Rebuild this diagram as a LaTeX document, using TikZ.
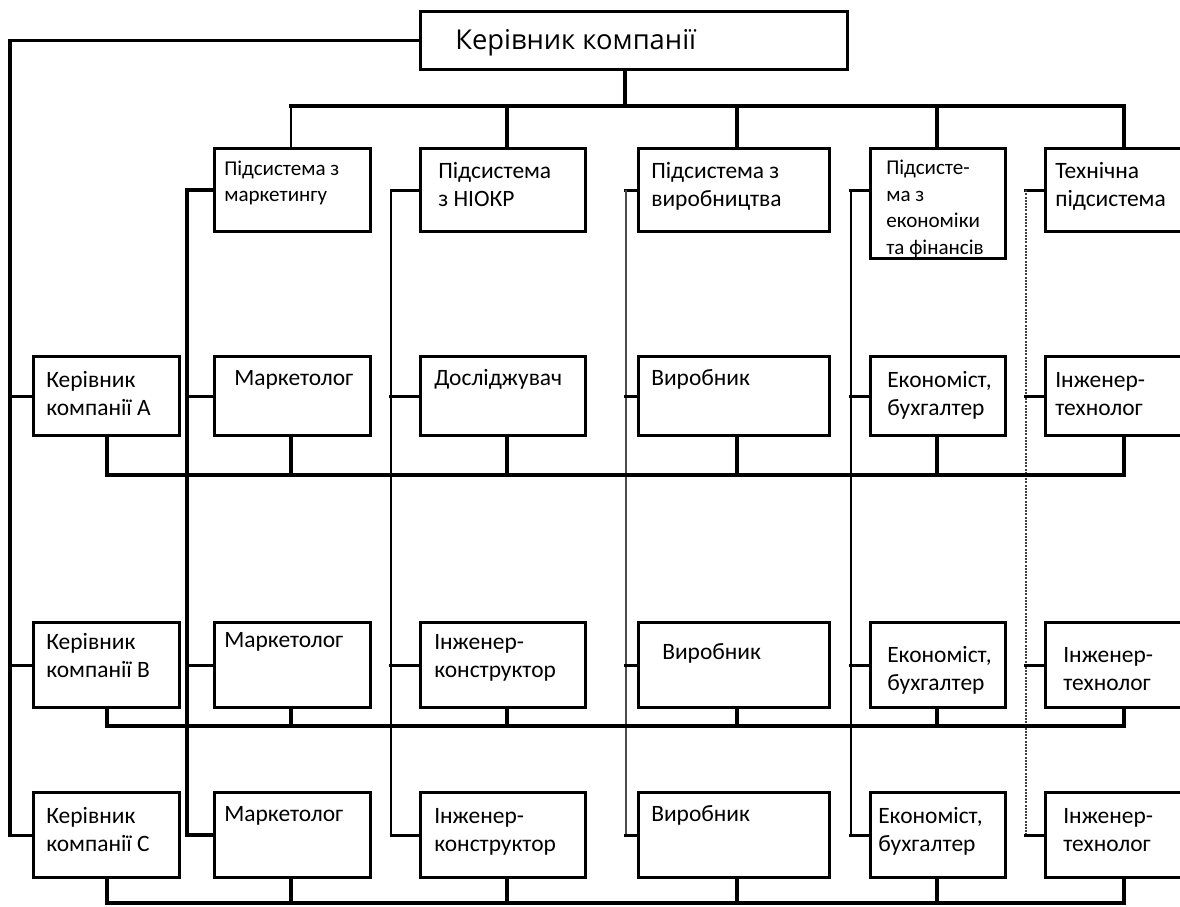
\documentclass[tikz,border=0pt]{standalone}
\usepackage{fontspec}
\setmainfont{Carlito}
\newfontfamily\titlefont{Open Sans}
\begin{document}
\begin{tikzpicture}[x=0.75pt,y=-0.75pt,
  cellbox/.style={draw, line width=2.6pt, inner sep=0pt, anchor=north west, line join=miter},
  % labels are placed by the baseline of their last line
  lbl/.style={inner sep=0pt, anchor=base west, align=left, font=\fontsize{17.6}{21}\selectfont},
  lblsmall/.style={lbl, font=\fontsize{15.8}{19.5}\selectfont},
  link/.style={line width=2.4pt, line cap=rect, line join=miter},
  thinlink/.style={line width=1.4pt, line cap=rect, line join=miter},
  faintlink/.style={line width=1.3pt, black!70, line join=miter},
  dotlink/.style={line width=1.4pt, black!75, densely dotted, line join=miter}]

\useasboundingbox[fill=white] (0,0) rectangle (1180,906);

% column positions of the drops and the side rails
\coordinate (kt) at (625,0);
\coordinate (k0) at (107,0);
\coordinate (k1) at (291,0);
\coordinate (k2) at (507,0);
\coordinate (k3) at (737,0);
\coordinate (k4) at (937,0);
\coordinate (k5) at (1124,0);
\coordinate (r0) at (10,0);
\coordinate (r1) at (187,0);
\coordinate (r2) at (391,0);
\coordinate (r3) at (626,0);
\coordinate (r4) at (851,0);
\coordinate (r5) at (1026,0);
% bus levels
\coordinate (busT) at (0,106);
\coordinate (busA) at (0,475);
\coordinate (busB) at (0,726);
\coordinate (busC) at (0,903);

% head of the company
\node[cellbox, minimum width=427*0.75pt, minimum height=58*0.75pt] (top) at (419,10) {};
\node[lbl, font=\titlefont\fontsize{20.5}{24}\selectfont] (top-t) at (455,50) {Керівник компанії};

% subsystems
\node[cellbox, minimum width=156*0.75pt, minimum height=83*0.75pt] (s1) at (213,147) {};
\node[cellbox, minimum width=165*0.75pt, minimum height=83*0.75pt] (s2) at (419,147) {};
\node[cellbox, minimum width=191*0.75pt, minimum height=83*0.75pt] (s3) at (637,147) {};
\node[cellbox, minimum width=135*0.75pt, minimum height=110*0.75pt] (s4) at (869,147) {};
\node[cellbox, minimum width=140*0.75pt, minimum height=83*0.75pt] (s5) at (1044,147) {};
\node[lblsmall] (s1-t) at (224,201) {Підсистема з\\маркетингу};
\node[lbl] (s2-t) at (438,206) {Підсистема\\з НІОКР};
\node[lbl] (s3-t) at (651,206) {Підсистема з\\виробництва};
\node[lblsmall, font=\fontsize{15.8}{19.8}\selectfont] (s4-t) at (886,254) {Підсисте-\\ма з\\економіки\\та фінансів};
\node[lbl] (s5-t) at (1055,206) {Технічна\\підсистема};

% row A
\node[cellbox, minimum width=146*0.75pt, minimum height=79*0.75pt] (a0) at (32,355) {};
\node[cellbox, minimum width=156*0.75pt, minimum height=79*0.75pt] (a1) at (213,355) {};
\node[cellbox, minimum width=165*0.75pt, minimum height=79*0.75pt] (a2) at (419,355) {};
\node[cellbox, minimum width=191*0.75pt, minimum height=79*0.75pt] (a3) at (637,355) {};
\node[cellbox, minimum width=135*0.75pt, minimum height=79*0.75pt] (a4) at (869,355) {};
\node[cellbox, minimum width=140*0.75pt, minimum height=79*0.75pt] (a5) at (1044,355) {};
\node[lbl] (a0-t) at (46,415) {Керівник\\компанії A};
\node[lbl] (a1-t) at (234,385) {Маркетолог};
\node[lbl] (a2-t) at (434,385) {Досліджувач};
\node[lbl] (a3-t) at (651,385) {Виробник};
\node[lbl] (a4-t) at (887,415) {Економіст,\\бухгалтер};
\node[lbl] (a5-t) at (1055,415) {Інженер-\\технолог};

% row B
\node[cellbox, minimum width=146*0.75pt, minimum height=85*0.75pt] (b0) at (32,621) {};
\node[cellbox, minimum width=156*0.75pt, minimum height=85*0.75pt] (b1) at (213,621) {};
\node[cellbox, minimum width=165*0.75pt, minimum height=85*0.75pt] (b2) at (419,621) {};
\node[cellbox, minimum width=191*0.75pt, minimum height=85*0.75pt] (b3) at (637,621) {};
\node[cellbox, minimum width=135*0.75pt, minimum height=85*0.75pt] (b4) at (869,621) {};
\node[cellbox, minimum width=140*0.75pt, minimum height=85*0.75pt] (b5) at (1044,621) {};
\node[lbl] (b0-t) at (46,677) {Керівник\\компанії B};
\node[lbl] (b1-t) at (224,647) {Маркетолог};
\node[lbl] (b2-t) at (434,677) {Інженер-\\конструктор};
\node[lbl] (b3-t) at (662,659) {Виробник};
\node[lbl] (b4-t) at (887,690) {Економіст,\\бухгалтер};
\node[lbl] (b5-t) at (1063,690) {Інженер-\\технолог};

% row C
\node[cellbox, minimum width=146*0.75pt, minimum height=85*0.75pt] (c0) at (32,791) {};
\node[cellbox, minimum width=156*0.75pt, minimum height=85*0.75pt] (c1) at (213,791) {};
\node[cellbox, minimum width=165*0.75pt, minimum height=85*0.75pt] (c2) at (419,791) {};
\node[cellbox, minimum width=191*0.75pt, minimum height=85*0.75pt] (c3) at (637,791) {};
\node[cellbox, minimum width=135*0.75pt, minimum height=85*0.75pt] (c4) at (869,791) {};
\node[cellbox, minimum width=140*0.75pt, minimum height=85*0.75pt] (c5) at (1044,791) {};
\node[lbl] (c0-t) at (46,851) {Керівник\\компанії C};
\node[lbl] (c1-t) at (224,821) {Маркетолог};
\node[lbl] (c2-t) at (434,851) {Інженер-\\конструктор};
\node[lbl] (c3-t) at (651,821) {Виробник};
\node[lbl] (c4-t) at (878,851) {Економіст,\\бухгалтер};
\node[lbl] (c5-t) at (1063,851) {Інженер-\\технолог};

% head to subsystems
\draw[link] (top.south -| kt) -- (busT -| kt);
\draw[link] (busT -| k1) -- (busT -| k5) -- (s5.north -| k5);
\draw[thinlink] (busT -| k1) -- (s1.north -| k1);
\draw[link] (busT -| k2) -- (s2.north -| k2);
\draw[link] (busT -| k3) -- (s3.north -| k3);
\draw[link] (busT -| k4) -- (s4.north -| k4);

% head to company managers
\draw[link] (top.west) -| (c0.west -| r0) -- (c0.west);
\draw[link] (a0.west -| r0) -- (a0.west);
\draw[link] (b0.west -| r0) -- (b0.west);

% subsystem rails
\draw[link, line width=2.8pt] (s1.west) -| (c1.west -| r1) -- (c1.west);
\draw[link] (a1.west -| r1) -- (a1.west);
\draw[link] (b1.west -| r1) -- (b1.west);

\draw[link, line width=2pt] (s2.west) -| (c2.west -| r2) -- (c2.west);
\draw[link] (a2.west -| r2) -- (a2.west);
\draw[link] (b2.west -| r2) -- (b2.west);

\draw[link] (s3.west) -- (s3.west -| r3);
\draw[faintlink] (s3.west -| r3) -- (c3.west -| r3);
\draw[link] (c3.west -| r3) -- (c3.west);
\draw[link] (a3.west -| r3) -- (a3.west);
\draw[link] (b3.west -| r3) -- (b3.west);

\draw[link] (s4.west |- s3.west) -- (s3.west -| r4);
\draw[link, line width=1.7pt] (s3.west -| r4) -- (c4.west -| r4);
\draw[link] (c4.west -| r4) -- (c4.west);
\draw[link] (a4.west -| r4) -- (a4.west);
\draw[link] (b4.west -| r4) -- (b4.west);

\draw[link] (s5.west) -- (s5.west -| r5);
\draw[dotlink] (s5.west -| r5) -- (c5.west -| r5);
\draw[link] (c5.west -| r5) -- (c5.west);
\draw[link] (a5.west -| r5) -- (a5.west);
\draw[link] (b5.west -| r5) -- (b5.west);

% buses joining each row
\draw[link] (a0.south -| k0) -- (busA -| k0) -- (busA -| k5) -- (a5.south -| k5);
\draw[link] (a1.south -| k1) -- (busA -| k1);
\draw[link] (a2.south -| k2) -- (busA -| k2);
\draw[link] (a3.south -| k3) -- (busA -| k3);
\draw[link] (a4.south -| k4) -- (busA -| k4);

\draw[link] (b0.south -| k0) -- (busB -| k0) -- (busB -| k5) -- (b5.south -| k5);
\draw[link] (b1.south -| k1) -- (busB -| k1);
\draw[link] (b2.south -| k2) -- (busB -| k2);
\draw[link] (b3.south -| k3) -- (busB -| k3);
\draw[link] (b4.south -| k4) -- (busB -| k4);

\draw[link] (c0.south -| k0) -- (busC -| k0) -- (busC -| k5) -- (c5.south -| k5);
\draw[link] (c1.south -| k1) -- (busC -| k1);
\draw[link] (c2.south -| k2) -- (busC -| k2);
\draw[link] (c3.south -| k3) -- (busC -| k3);
\draw[link] (c4.south -| k4) -- (busC -| k4);
\end{tikzpicture}
\end{document}
